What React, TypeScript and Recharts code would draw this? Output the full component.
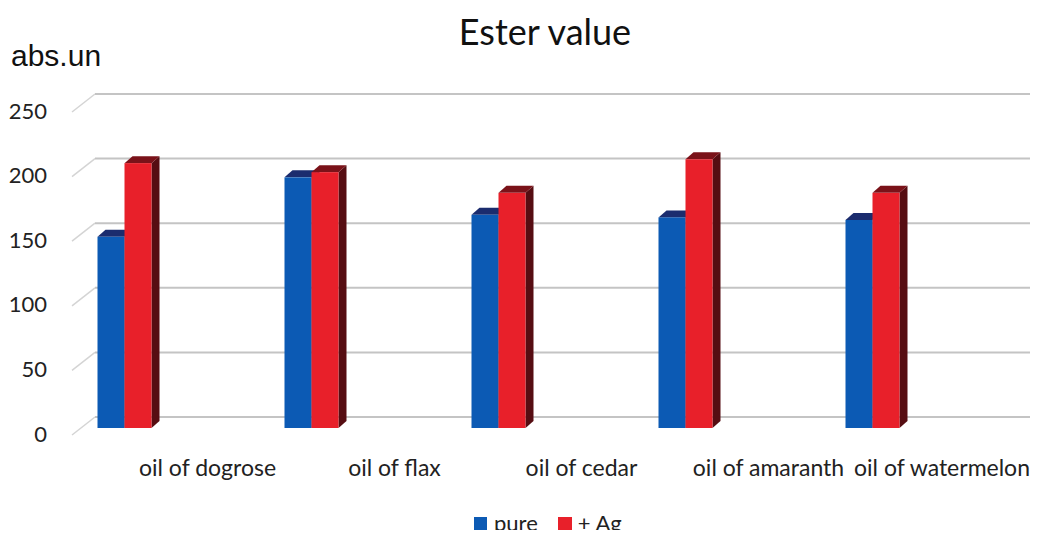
import React from 'react';
import { BarChart, Bar, XAxis, YAxis, CartesianGrid, Legend } from 'recharts';

const categories = ['oil of dogrose', 'oil of flax', 'oil of cedar', 'oil of amaranth', 'oil of watermelon'];
const pureValues = [148, 194, 165, 163, 161];
const agValues = [205, 198, 182, 208, 182];
const yTicks = [0, 50, 100, 150, 200, 250];

const data = categories.map((name, i) => ({ name, pure: pureValues[i], ag: agValues[i] }));

const FONT = 'Lato, "Open Sans", sans-serif';

// offsets that push the front faces of the bars out of the back wall
const SHIFT_X = -64.5;
const SHIFT_Y = 11;
const DEPTH_X = 8;
const DEPTH_Y = 7;
const PLOT_RIGHT = 1030;

const makeBar = (front: string, top: string, side: string) => (props: any) => {
    const { x, y, width, height } = props;
    if (height == null || height <= 0) return null;
    const fx = x + SHIFT_X;
    const fy = y + SHIFT_Y;
    const w = width;
    const h = height;
    return (
        <g>
            <path
                d={`M${fx + w},${fy} L${fx + w + DEPTH_X},${fy - DEPTH_Y} L${fx + w + DEPTH_X},${fy + h - DEPTH_Y} L${fx + w},${fy + h} Z`}
                fill={side}
            />
            <path
                d={`M${fx},${fy} L${fx + DEPTH_X},${fy - DEPTH_Y} L${fx + w + DEPTH_X},${fy - DEPTH_Y} L${fx + w},${fy} Z`}
                fill={top}
            />
            <rect x={fx} y={fy} width={w} height={h} fill={front} />
        </g>
    );
};

const BlueBar = makeBar('#0c5ab4', '#1b2c6e', '#0a2f66');
const RedBar = makeBar('#e8202a', '#7a1219', '#560d12');

const gridLine = (props: any) => {
    const { x1, y1, x2, index } = props;
    return (
        <g key={`grid-${index}`}>
            <line x1={x1 - 23} y1={y1 + 18} x2={x1} y2={y1} stroke="#d4d4d4" strokeWidth={1.5} />
            <line x1={x1} y1={y1} x2={x2} y2={y1} stroke="#c4c4c4" strokeWidth={2} />
        </g>
    );
};

const YTick = (props: any) => {
    const { y, payload } = props;
    return (
        <text x={47} y={y + 16} textAnchor="end" dominantBaseline="central" fontFamily={FONT} fontSize={22} fill="#222">
            {payload.value}
        </text>
    );
};

const XTick = (props: any) => {
    const { x, payload, index } = props;
    // last label is pushed back inside the plot, like the original
    const isLast = index === categories.length - 1;
    return (
        <text
            x={isLast ? PLOT_RIGHT : x + 19}
            y={467}
            textAnchor={isLast ? 'end' : 'middle'}
            dominantBaseline="central"
            fontFamily={FONT}
            fontSize={23}
            fill="#222"
        >
            {payload.value}
        </text>
    );
};

const LegendContent = () => (
    <div style={{ display: 'flex', alignItems: 'center', fontFamily: FONT, fontSize: 22, lineHeight: '26px', color: '#222', paddingLeft: 474 }}>
        <span style={{ width: 13, height: 13, background: '#0c5ab4', display: 'inline-block', marginRight: 7 }} />
        <span style={{ marginRight: 20 }}>pure</span>
        <span style={{ width: 14, height: 13, background: '#e8202a', display: 'inline-block', marginRight: 6 }} />
        <span>+ Ag</span>
    </div>
);

export default function App() {
    return (
        <div style={{ position: 'relative', width: 1045, height: 538, margin: -8, background: '#fff', overflow: 'hidden' }}>
            <div style={{ position: 'absolute', left: 0, top: 9, width: 1090, textAlign: 'center', fontFamily: FONT, fontSize: 36, color: '#111' }}>
                Ester value
            </div>
            <div style={{ position: 'absolute', left: 11, top: 39, fontFamily: '"Liberation Sans", Arial, sans-serif', fontSize: 30, color: '#111' }}>
                abs.un
            </div>
            <BarChart
                width={1045}
                height={538}
                data={data}
                margin={{ top: 94, right: 15, left: 0, bottom: 45 }}
                barSize={27}
                barGap={0}
                style={{ position: 'absolute', left: 0, top: 0 }}
            >
                <CartesianGrid vertical={false} horizontal={gridLine} />
                <XAxis dataKey="name" axisLine={false} tickLine={false} height={50} tick={<XTick />} interval={0} />
                <YAxis domain={[0, 250]} ticks={yTicks} width={95} axisLine={false} tickLine={false} tick={<YTick />} />
                <Legend
                    verticalAlign="bottom"
                    content={<LegendContent />}
                    wrapperStyle={{ position: 'absolute', left: 0, top: 510, width: 1045, height: 26 }}
                />
                <Bar dataKey="pure" name="pure" fill="#0c5ab4" shape={BlueBar} isAnimationActive={false} />
                <Bar dataKey="ag" name="+ Ag" fill="#e8202a" shape={RedBar} isAnimationActive={false} />
            </BarChart>
        </div>
    );
}
